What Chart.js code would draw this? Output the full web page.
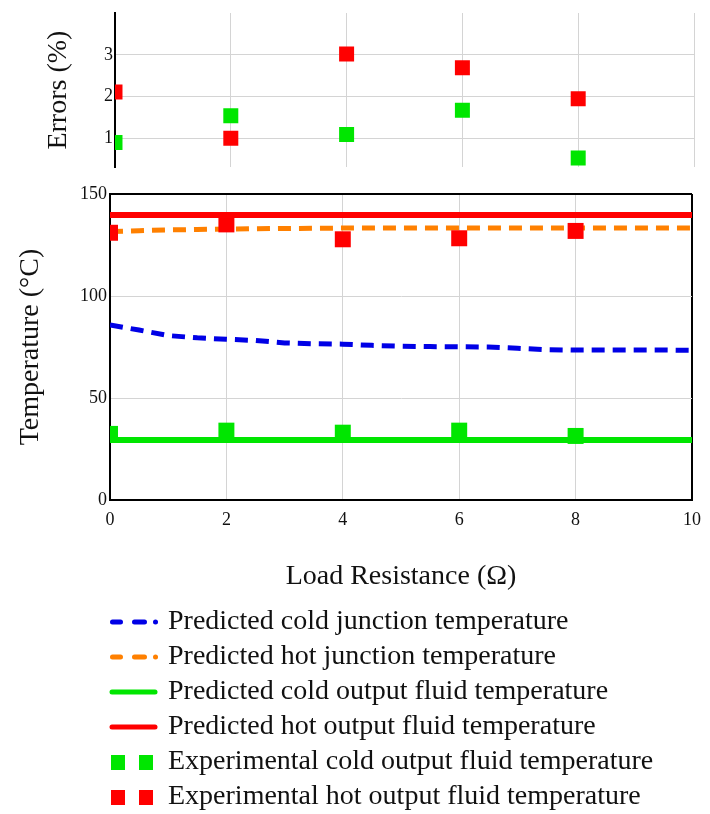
<!DOCTYPE html>
<html>
<head>
<meta charset="utf-8">
<script src="https://cdn.jsdelivr.net/npm/chart.js@4.4.1/dist/chart.umd.min.js"></script>
<style>
  html, body { margin: 0; padding: 0; background: #fff; overflow: hidden; }
  #errBox { position: absolute; left: 0; top: 0; }
  #tempBox { position: absolute; left: 0; top: 180px; }
</style>
</head>
<body>
<div id="errBox"><canvas id="errChart" width="710" height="180"></canvas></div>
<div id="tempBox"><canvas id="tempChart" width="710" height="641"></canvas></div>
<script>
// measured points (load resistance in ohm)
const expR = [0, 2, 4, 6, 8];
const errHot = [2.11, 1.0, 3.02, 2.69, 1.95];
const errCold = [0.9, 1.54, 1.09, 1.67, 0.53];
const expHot = [131.0, 135.1, 127.8, 128.3, 131.9];
const expCold = [32.4, 34.0, 33.0, 34.0, 31.4];

// model curves
const predR = [0, 0.5, 1, 1.5, 2, 2.5, 3, 3.5, 4, 4.5, 5, 5.5, 6, 6.5, 7, 7.5, 8, 8.5, 9, 9.5, 10];
const predColdJunction = [85.8, 83.3, 80.6, 79.5, 78.8, 78.2, 77.0, 76.6, 76.4, 75.8, 75.4, 75.2, 75.1, 75.0, 74.4, 73.7, 73.5, 73.5, 73.5, 73.5, 73.4];
const predHotJunction = [131.6, 132.0, 132.4, 132.6, 132.8, 133.0, 133.1, 133.2, 133.3, 133.3, 133.3, 133.3, 133.3, 133.3, 133.3, 133.3, 133.3, 133.3, 133.3, 133.3, 133.3];
const predColdFluid = [29.4, 29.4, 29.4, 29.4, 29.4, 29.4, 29.4, 29.4, 29.4, 29.4, 29.4, 29.4, 29.4, 29.4, 29.4, 29.4, 29.4, 29.4, 29.4, 29.4, 29.4];
const predHotFluid = [139.7, 139.7, 139.7, 139.7, 139.7, 139.7, 139.7, 139.7, 139.7, 139.7, 139.7, 139.7, 139.7, 139.7, 139.7, 139.7, 139.7, 139.7, 139.7, 139.7, 139.7];

const xTicks = [0, 2, 4, 6, 8, 10];
const tempTicks = [0, 50, 100, 150];
const errTicks = [1, 2, 3];

const legendLabels = [
    'Predicted cold junction temperature',
    'Predicted hot junction temperature',
    'Predicted cold output fluid temperature',
    'Predicted hot output fluid temperature',
    'Experimental cold output fluid temperature',
    'Experimental hot output fluid temperature'
];

const serif = '"Liberation Serif", "Times New Roman", serif';
const gridGrey = '#d4d4d4';
const BLUE = '#0000e6', ORANGE = '#ff8000', GREEN = '#00e600', RED = '#ff0000';

const pts = (xs, ys) => xs.map((x, i) => ({ x: x, y: ys[i] }));

// small pictures for the legend symbols (161 wide, centred on the legend box)
function legendIcon(kind, color) {
    const c = document.createElement('canvas');
    c.width = 161; c.height = 28;
    const g = c.getContext('2d');
    g.strokeStyle = color; g.fillStyle = color;
    g.lineWidth = 5;
    g.lineCap = 'round';
    if (kind === 'squares') {
        g.fillRect(111, 7, 14, 15);
        g.fillRect(139, 7, 14, 15);
    } else if (kind === 'dash') {
        g.setLineDash([8, 14, 10, 11, 0.01, 50]);
        g.beginPath();
        g.moveTo(112.5, 14);
        g.lineTo(159, 14);
        g.stroke();
    } else {
        g.beginPath();
        g.moveTo(112, 14);
        g.lineTo(155, 14);
        g.stroke();
    }
    return c;
}

// top: errors
new Chart(document.getElementById('errChart'), {
    type: 'scatter',
    data: {
        datasets: [
            { label: 'hot', data: pts(expR, errHot), backgroundColor: RED, borderColor: RED, pointStyle: 'rect', pointRadius: 10.6, pointBorderWidth: 0, clip: 0 },
            { label: 'cold', data: pts(expR, errCold), backgroundColor: GREEN, borderColor: GREEN, pointStyle: 'rect', pointRadius: 10.6, pointBorderWidth: 0, clip: 0 }
        ]
    },
    options: {
        responsive: false,
        animation: false,
        devicePixelRatio: 1,
        layout: { padding: { top: 13, bottom: 12, right: 16, left: 0 } },
        plugins: { legend: { display: false }, tooltip: { enabled: false } },
        scales: {
            x: {
                type: 'linear', min: 0, max: 10,
                afterBuildTicks: s => { s.ticks = xTicks.map(v => ({ value: v })); },
                ticks: { display: false },
                grid: { color: gridGrey, drawTicks: false },
                border: { display: false },
                afterFit: s => { s.height = 0; }
            },
            y: {
                min: 0.31, max: 4,
                afterBuildTicks: s => { s.ticks = errTicks.map(v => ({ value: v })); },
                ticks: { padding: 2, color: '#111', font: { family: serif, size: 18 } },
                grid: { color: gridGrey, drawTicks: false },
                border: { color: '#000', width: 2 },
                title: { display: true, text: 'Errors (%)', color: '#111', font: { family: serif, size: 28 }, padding: { top: 42, bottom: 0 } },
                afterFit: s => { s.width = 115; }
            }
        }
    }
});

// bottom: temperatures
const frameColor = ctx => (ctx.tick && (ctx.tick.value === 10 || ctx.tick.value === 150)) ? '#000' : gridGrey;
const frameWidth = ctx => (ctx.tick && (ctx.tick.value === 10 || ctx.tick.value === 150)) ? 2 : 1;

const icons = [
    legendIcon('dash', BLUE),
    legendIcon('dash', ORANGE),
    legendIcon('line', GREEN),
    legendIcon('line', RED),
    legendIcon('squares', GREEN),
    legendIcon('squares', RED)
];

new Chart(document.getElementById('tempChart'), {
    type: 'line',
    data: {
        datasets: [
            { label: legendLabels[0], data: pts(predR, predColdJunction), borderColor: BLUE, borderWidth: 5, borderDash: [13, 8], pointRadius: 0, tension: 0, order: 2, clip: 0 },
            { label: legendLabels[1], data: pts(predR, predHotJunction), borderColor: ORANGE, borderWidth: 5, borderDash: [13, 8], pointRadius: 0, tension: 0, order: 2, clip: 0 },
            { label: legendLabels[2], data: pts(predR, predColdFluid), borderColor: GREEN, borderWidth: 6, pointRadius: 0, tension: 0, order: 2, clip: 0 },
            { label: legendLabels[3], data: pts(predR, predHotFluid), borderColor: RED, borderWidth: 6, pointRadius: 0, tension: 0, order: 2, clip: 0 },
            { label: legendLabels[4], data: pts(expR, expCold), showLine: false, backgroundColor: GREEN, borderColor: GREEN, pointStyle: 'rect', pointRadius: 11.3, pointBorderWidth: 0, order: 0, clip: 0 },
            { label: legendLabels[5], data: pts(expR, expHot), showLine: false, backgroundColor: RED, borderColor: RED, pointStyle: 'rect', pointRadius: 11.3, pointBorderWidth: 0, order: 0, clip: 0 }
        ]
    },
    options: {
        responsive: false,
        animation: false,
        devicePixelRatio: 1,
        layout: { padding: { top: 14, bottom: 0, right: 17, left: 0 } },
        plugins: {
            tooltip: { enabled: false },
            legend: {
                position: 'bottom',
                align: 'start',
                labels: {
                    usePointStyle: true,
                    pointStyleWidth: 147,
                    padding: 7,
                    color: '#111',
                    font: { family: serif, size: 28 },
                    generateLabels: chart => chart.data.datasets.map((ds, i) => ({
                        text: ds.label,
                        pointStyle: icons[i],
                        fillStyle: 'transparent',
                        strokeStyle: 'transparent',
                        lineWidth: 0,
                        fontColor: '#111',
                        hidden: false,
                        datasetIndex: i
                    }))
                }
            }
        },
        scales: {
            x: {
                type: 'linear', min: 0, max: 10,
                afterBuildTicks: s => { s.ticks = xTicks.map(v => ({ value: v })); },
                ticks: { padding: 9, color: '#111', font: { family: serif, size: 18 } },
                grid: { color: frameColor, lineWidth: frameWidth, drawTicks: false },
                border: { color: '#000', width: 2 },
                title: { display: true, text: 'Load Resistance (\u03A9)', color: '#111', font: { family: serif, size: 28 }, padding: { top: 0, bottom: 8 } },
                afterFit: s => { s.height = 101; }
            },
            y: {
                min: 0, max: 150,
                afterBuildTicks: s => { s.ticks = tempTicks.map(v => ({ value: v })); },
                ticks: { padding: 3, color: '#111', font: { family: serif, size: 18 } },
                grid: { color: frameColor, lineWidth: frameWidth, drawTicks: false },
                border: { color: '#000', width: 2 },
                title: { display: true, text: 'Temperature (\u00B0C)', color: '#111', font: { family: serif, size: 28 }, padding: { top: 14, bottom: 0 } },
                afterFit: s => { s.width = 110; }
            }
        }
    }
});
</script>
</body>
</html>
